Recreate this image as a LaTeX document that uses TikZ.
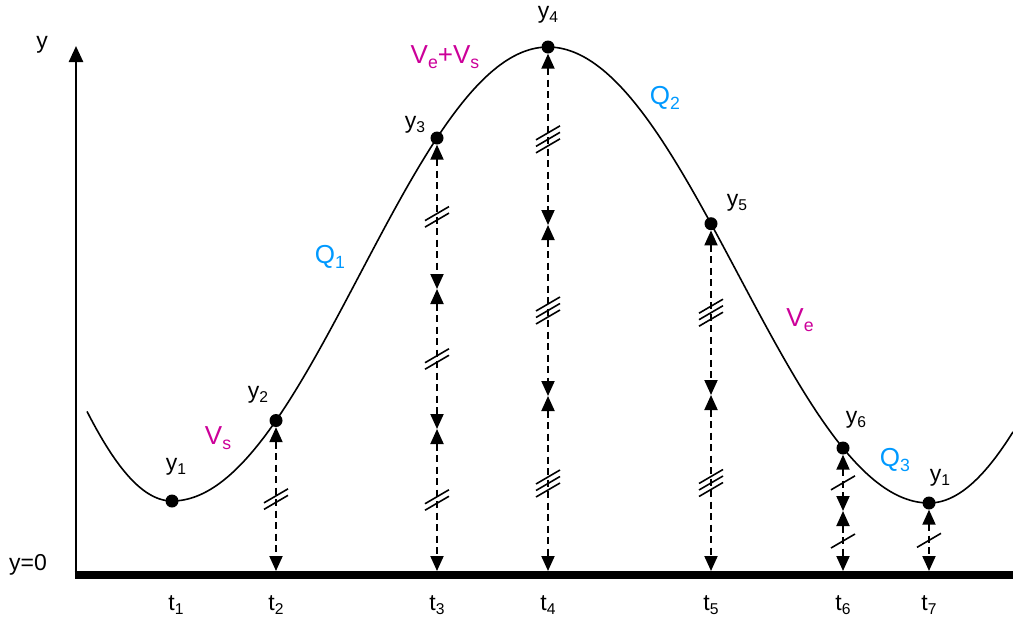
\documentclass[tikz,border=0pt]{standalone}
\usepackage{fontspec}
\setmainfont{Liberation Sans}
\usetikzlibrary{arrows.meta}
\definecolor{lblmag}{RGB}{204,0,153}
\definecolor{lblblue}{RGB}{0,153,255}
\newcommand{\lowidx}[1]{\raisebox{-0.35ex}{\fontsize{0.68em}{0.68em}\selectfont #1}}
\newcommand{\ticks}[2]{%
  \foreach \k in {1,...,#2}{%
    \draw[slash] (#1) ++(-12,{7+(\k-(#2+1)/2)*6.5}) -- ++(24,-14);}}
\begin{document}
\begin{tikzpicture}[x=1pt,y=-1pt,
  curve/.style={line width=1.6pt},
  dot/.style={circle,fill=black,inner sep=0pt,minimum size=13pt},
  lbl/.style={font=\fontsize{23}{23}\selectfont, inner sep=0pt},
  mag/.style={lbl,text=lblmag,font=\fontsize{26}{26}\selectfont},
  blu/.style={lbl,text=lblblue,font=\fontsize{26}{26}\selectfont},
  gap/.style={dash pattern=on 7pt off 4.5pt, line width=2pt,
    {Triangle[width=13pt,length=15pt]}-{Triangle[width=13pt,length=15pt]}},
  slash/.style={line width=1.6pt},
  ]
\useasboundingbox (0,0) rectangle (1013,619);

% axes
\coordinate (origin) at (76,575);
\coordinate (ytop) at (76,46);
\coordinate (xstart) at (74.5,575);
\coordinate (xend) at (1013,575);
\draw[line width=8pt] (xstart) -- (xend);
\draw[line width=2.5pt,-{Triangle[width=14pt,length=16pt]}] (origin) -- (ytop);
\node[lbl] (yax) at (42,45) {y};
\node[lbl] (yzero) at (28,565) {y=0};

% curve
\draw[curve] plot[domain=87:172,samples=40] (\x,{501-454*(1-cos((172-\x)/290*180))/2});
\draw[curve] plot[domain=172:548,samples=120] (\x,{501-454*(1-cos((\x-172)/376*180))/2});
\draw[curve] plot[domain=548:929,samples=120] (\x,{47+456*(1-cos((\x-548)/381*180))/2});
\draw[curve] plot[domain=929:1013,samples=40] (\x,{503-456*(1-cos((\x-929)/325*180))/2});

% points on the curve
\node[dot] (y1) at (172,501) {};
\node[dot] (y2) at (276,420.5) {};
\node[dot] (y3) at (437,138) {};
\node[dot] (y4) at (548,47) {};
\node[dot] (y5) at (711,223.7) {};
\node[dot] (y6) at (843,448) {};
\node[dot] (y7) at (929,503) {};

% baseline ends and meeting points
\coordinate (b2) at (276,571);
\coordinate (b3) at (437,571);
\coordinate (b4) at (548,571);
\coordinate (b5) at (711,571);
\coordinate (b6) at (843,571);
\coordinate (b7) at (929,571);
\coordinate (m31) at (437,289);
\coordinate (m32) at (437,429);
\coordinate (m41) at (548,225);
\coordinate (m42) at (548,396);
\coordinate (m51) at (711,395);
\coordinate (m61) at (843,511);

% dashed double arrows
\draw[gap] (y2) -- coordinate[pos=0.5] (s21) (b2);
\draw[gap] (y3) -- coordinate[pos=0.5] (s31) (m31);
\draw[gap] (m31) -- coordinate[pos=0.5] (s32) (m32);
\draw[gap] (m32) -- coordinate[pos=0.5] (s33) (b3);
\draw[gap] (y4) -- coordinate[pos=0.5] (s41) (m41);
\draw[gap] (m41) -- coordinate[pos=0.5] (s42) (m42);
\draw[gap] (m42) -- coordinate[pos=0.5] (s43) (b4);
\draw[gap] (y5) -- coordinate[pos=0.5] (s51) (m51);
\draw[gap] (m51) -- coordinate[pos=0.5] (s52) (b5);
\draw[gap] (y6) -- coordinate[pos=0.5] (s61) (m61);
\draw[gap] (m61) -- coordinate[pos=0.5] (s62) (b6);
\draw[gap] (y7) -- coordinate[pos=0.5] (s71) (b7);

% tick marks
\ticks{s21}{2}
\ticks{s31}{2}\ticks{s32}{2}\ticks{s33}{2}
\ticks{s41}{3}\ticks{s42}{3}\ticks{s43}{3}
\ticks{s51}{3}\ticks{s52}{3}
\ticks{s61}{1}\ticks{s62}{1}
\ticks{s71}{1}

% point labels
\node[lbl] (ly1) at (176,467) {y\lowidx{1}};
\node[lbl] (ly2) at (258,395) {y\lowidx{2}};
\node[lbl] (ly3) at (415,125) {y\lowidx{3}};
\node[lbl] (ly4) at (548,15) {y\lowidx{4}};
\node[lbl] (ly5) at (737,203) {y\lowidx{5}};
\node[lbl] (ly6) at (856,420) {y\lowidx{6}};
\node[lbl] (ly7) at (940,478) {y\lowidx{1}};

% time labels
\node[lbl] (t1) at (176,605) {t\lowidx{1}};
\node[lbl] (t2) at (276,605) {t\lowidx{2}};
\node[lbl] (t3) at (437,605) {t\lowidx{3}};
\node[lbl] (t4) at (548,605) {t\lowidx{4}};
\node[lbl] (t5) at (711,605) {t\lowidx{5}};
\node[lbl] (t6) at (843,605) {t\lowidx{6}};
\node[lbl] (t7) at (929,605) {t\lowidx{7}};

% coloured labels
\node[mag] (vs) at (218,438) {V\lowidx{s}};
\node[mag] (vevs) at (445,57) {V\lowidx{e}+V\lowidx{s}};
\node[mag] (ve) at (800,320) {V\lowidx{e}};
\node[blu] (q1) at (330,257) {Q\lowidx{1}};
\node[blu] (q2) at (665,98) {Q\lowidx{2}};
\node[blu] (q3) at (895,460) {Q\lowidx{3}};
\end{tikzpicture}
\end{document}
